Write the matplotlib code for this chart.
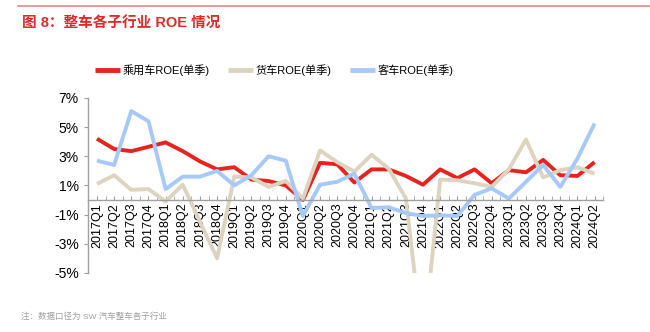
import matplotlib
matplotlib.use("Agg")
import matplotlib.pyplot as plt
import numpy as np

plt.rcParams['font.family'] = ['Liberation Sans', 'Noto Sans CJK SC']

quarters = [f"{y}Q{q}" for y in range(2017, 2025) for q in range(1, 5)][:30]

# quarterly ROE (%) by segment
passenger_roe = [4.2, 3.5, 3.35, 3.65, 3.95, 3.35, 2.65, 2.1, 2.25, 1.4,
                 1.3, 1.0, 0.0, 2.55, 2.45, 1.2, 2.1, 2.1, 1.65, 1.05,
                 2.1, 1.5, 2.1, 1.15, 2.05, 1.9, 2.75, 1.7, 1.65, 2.6]
truck_roe = [1.1, 1.7, 0.7, 0.75, -0.1, 1.05, -1.5, -4.0, 1.6, 1.55,
             0.9, 1.3, 0.1, 3.4, 2.6, 1.95, 3.1, 2.15, 0.1, -10.0,
             1.4, 1.35, 1.15, 0.9, 2.1, 4.15, 1.55, 2.05, 2.25, 1.8]
bus_roe = [2.7, 2.4, 6.1, 5.4, 0.75, 1.6, 1.6, 2.0, 1.0, 1.7,
           3.0, 2.7, -1.1, 1.05, 1.25, 1.8, -0.55, -0.5, -0.9, -1.1,
           -1.05, -1.1, 0.35, 0.8, 0.1, 1.25, 2.4, 0.9, 2.85, 5.25]

series_names = ["乘用车ROE(单季)", "货车ROE(单季)", "客车ROE(单季)"]
series_colors = ["#e8231f", "#ddd4bf", "#a7c9fa"]
y_ticks = [-5, -3, -1, 1, 3, 5, 7]

fig = plt.figure(figsize=(6.5, 3.32), dpi=100)
ax = fig.add_axes([0.136, 0.178, 0.792, 0.527])

x = np.arange(len(quarters))
for vals, name, color in zip([passenger_roe, truck_roe, bus_roe], series_names, series_colors):
    ax.plot(x, vals, color=color, lw=2.8, label=name, solid_capstyle='butt')

ax.set_xlim(-0.5, len(quarters) - 0.5)
ax.set_ylim(-5, 7)
ax.set_yticks(y_ticks)
ax.set_yticklabels([f"{t}%" for t in y_ticks], fontsize=10)

ax.spines['top'].set_visible(False)
ax.spines['right'].set_visible(False)
ax.spines['bottom'].set_position(('data', 0))
for s in ('left', 'bottom'):
    ax.spines[s].set_color('#a0a0a0')
    ax.spines[s].set_linewidth(1.0)

ax.set_xticks(x)
ax.set_xticklabels(quarters, rotation=90, fontsize=9)
ax.set_xticks(np.arange(-0.5, len(quarters), 1.0), minor=True)
ax.tick_params(axis='x', which='both', direction='in', length=3, color='#a0a0a0', pad=2)
ax.tick_params(axis='y', direction='out', length=3, color='#a0a0a0', pad=4)

leg = fig.legend(loc='center left', bbox_to_anchor=(0.146, 0.79), ncol=3, frameon=False,
                 fontsize=8, handlelength=2.25, handletextpad=0.27, columnspacing=1.6,
                 borderaxespad=0, borderpad=0)
for line in leg.get_lines():
    line.set_linewidth(3.5)

# header rule, title and footnote
fig.add_artist(plt.Line2D([0.028, 1.0], [0.982, 0.982], color='#e68a8a', lw=1.2))
fig.text(0.034, 0.929, "图 8：整车各子行业 ROE 情况", color='#e02a2a', fontsize=10.5,
         fontweight='bold', va='center', ha='left')
fig.text(0.032, 0.048, "注：数据口径为 SW 汽车整车各子行业", color='#a0a0a0', fontsize=6.1,
         va='center', ha='left')

fig.savefig("out.png", dpi=100)
